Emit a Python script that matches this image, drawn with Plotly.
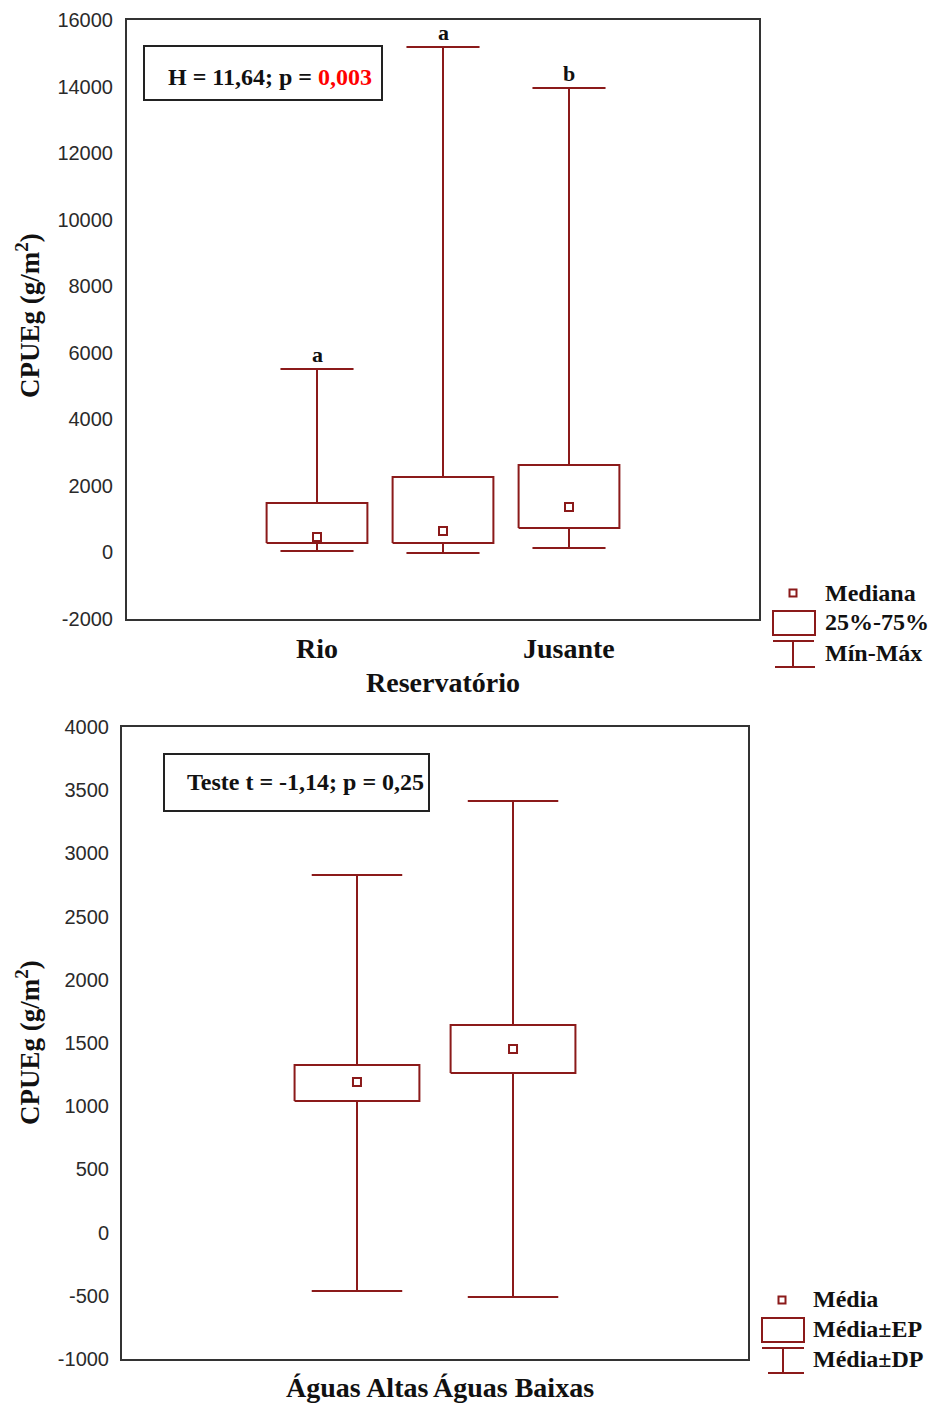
import plotly.graph_objects as go

W, H = 928, 1403
RED = "#8b1a1a"
FRAME = "#333333"
SERIF = "Liberation Serif, Times New Roman, serif"
SANS = "Liberation Sans, Arial, sans-serif"

# ---------------- data: top panel (median / quartiles / min-max) ----------------
top_categories = ["Rio", "Reservatório", "Jusante"]
top_median = [463, 643, 1364]
top_q1 = [283, 283, 733]
top_q3 = [1484, 2266, 2626]
top_min = [42, -18, 132]
top_max = [5511, 15187, 13955]
top_letters = ["a", "a", "b"]
top_yticks = [-2000, 0, 2000, 4000, 6000, 8000, 10000, 12000, 14000, 16000]

# ---------------- data: bottom panel (mean / ±SE / ±SD) ----------------
bot_categories = ["Águas Altas", "Águas Baixas"]
bot_mean = [1191, 1452]
bot_se_lo = [1041, 1262]
bot_se_hi = [1326, 1642]
bot_sd_lo = [-463, -510]
bot_sd_hi = [2829, 3415]
bot_yticks = [-1000, -500, 0, 500, 1000, 1500, 2000, 2500, 3000, 3500, 4000]

BOX_HALF = 0.40
CAP_HALF = 0.29


def px(x):
    return x / W


def py(y):
    return 1 - y / H


def box_traces(n, mid, lo, hi, wlo, whi, xa, ya):
    xs, ys = [], []
    for i in range(n):
        xs += [i - BOX_HALF, i + BOX_HALF, i + BOX_HALF, i - BOX_HALF, i - BOX_HALF, None]
        ys += [lo[i], lo[i], hi[i], hi[i], lo[i], None]
        xs += [i, i, None, i, i, None]
        ys += [hi[i], whi[i], None, lo[i], wlo[i], None]
        xs += [i - CAP_HALF, i + CAP_HALF, None, i - CAP_HALF, i + CAP_HALF, None]
        ys += [whi[i], whi[i], None, wlo[i], wlo[i], None]
    lines = go.Scatter(x=xs, y=ys, mode="lines", line=dict(color=RED, width=2),
                       xaxis=xa, yaxis=ya, hoverinfo="skip", showlegend=False)
    pts = go.Scatter(x=list(range(n)), y=mid, mode="markers",
                     marker=dict(symbol="square-open", size=8, color=RED,
                                 line=dict(width=2, color=RED)),
                     xaxis=xa, yaxis=ya, showlegend=False)
    return [lines, pts]


fig = go.Figure()
for t in box_traces(len(top_categories), top_median, top_q1, top_q3, top_min, top_max, "x", "y"):
    fig.add_trace(t)
for t in box_traces(len(bot_categories), bot_mean, bot_se_lo, bot_se_hi, bot_sd_lo, bot_sd_hi, "x2", "y2"):
    fig.add_trace(t)

axis_common = dict(showline=True, mirror=True, linecolor=FRAME, linewidth=2,
                   showgrid=False, zeroline=False, automargin=False)
tickfont = dict(family=SANS, size=20, color="#2a2a2a")

fig.update_layout(
    width=W, height=H,
    margin=dict(l=0, r=0, t=0, b=0, autoexpand=False),
    paper_bgcolor="white", plot_bgcolor="white",
    showlegend=False,
    xaxis=dict(domain=[px(127), px(759)], range=[-1.508, 3.508], showticklabels=False,
               ticks="", anchor="y", **axis_common),
    yaxis=dict(domain=[py(619), py(20)], range=[-2000, 16000], tickvals=top_yticks,
               ticktext=[str(v) for v in top_yticks],
               ticks="", ticklabelstandoff=8, anchor="x", tickfont=tickfont, **axis_common),
    xaxis2=dict(domain=[px(122), px(748)], range=[-1.506, 2.506], showticklabels=False,
                ticks="", anchor="y2", **axis_common),
    yaxis2=dict(domain=[py(1359), py(727)], range=[-1000, 4000], tickvals=bot_yticks,
                ticktext=[str(v) for v in bot_yticks],
                ticks="", ticklabelstandoff=7, anchor="x2", tickfont=tickfont, **axis_common),
)

ann = []
shapes = []

# category labels (top, staggered)
top_label_y = [648, 682, 648]
for i, c in enumerate(top_categories):
    ann.append(dict(x=i, xref="x", y=py(top_label_y[i]), yref="paper", text="<b>%s</b>" % c,
                    showarrow=False, xanchor="center", yanchor="middle",
                    font=dict(family=SERIF, size=28, color="#111")))
for i, c in enumerate(bot_categories):
    ann.append(dict(x=i, xref="x2", y=py(1387), yref="paper", text="<b>%s</b>" % c,
                    showarrow=False, xanchor="center", yanchor="middle",
                    font=dict(family=SERIF, size=28, color="#111")))

# significance letters
for i, l in enumerate(top_letters):
    ann.append(dict(x=i, xref="x", y=top_max[i], yref="y", text="<b>%s</b>" % l,
                    showarrow=False, xanchor="center", yanchor="bottom", yshift=0,
                    font=dict(family=SERIF, size=22, color="#111")))

# y-axis titles
for yc in (316, 1043):
    ann.append(dict(x=px(28), xref="paper", y=py(yc), yref="paper",
                    text="<b>CPUEg (g/m<sup>2</sup>)</b>", textangle=-90,
                    showarrow=False, xanchor="center", yanchor="middle",
                    font=dict(family=SERIF, size=27, color="#111")))

# stat boxes
shapes.append(dict(type="rect", xref="paper", yref="paper", x0=px(144), x1=px(382),
                   y0=py(100), y1=py(46), line=dict(color="#222", width=2)))
ann.append(dict(x=px(270), xref="paper", y=py(77), yref="paper",
                text="<b>H = 11,64; p = <span style='color:#ff0000'>0,003</span></b>",
                showarrow=False, xanchor="center", yanchor="middle",
                font=dict(family=SERIF, size=24, color="#111")))
shapes.append(dict(type="rect", xref="paper", yref="paper", x0=px(164), x1=px(429),
                   y0=py(811), y1=py(754), line=dict(color="#222", width=2)))
ann.append(dict(x=px(305), xref="paper", y=py(782), yref="paper",
                text="<b>Teste t = -1,14; p = 0,25</b>",
                showarrow=False, xanchor="center", yanchor="middle",
                font=dict(family=SERIF, size=24, color="#111")))


def legend(sq, box, wtop, wstem, wbot, texts, tx, tys):
    out = []
    out.append(dict(type="rect", xref="paper", yref="paper",
                    x0=px(sq[0] - 3.5), x1=px(sq[0] + 3.5), y0=py(sq[1] + 3.5), y1=py(sq[1] - 3.5),
                    line=dict(color=RED, width=2)))
    out.append(dict(type="rect", xref="paper", yref="paper",
                    x0=px(box[0]), x1=px(box[1]), y0=py(box[3]), y1=py(box[2]),
                    line=dict(color=RED, width=2)))
    for (x0, y0, x1, y1) in (wtop, wstem, wbot):
        out.append(dict(type="line", xref="paper", yref="paper",
                        x0=px(x0), x1=px(x1), y0=py(y0), y1=py(y1),
                        line=dict(color=RED, width=2)))
    a = []
    for t, ty in zip(texts, tys):
        a.append(dict(x=px(tx), xref="paper", y=py(ty), yref="paper", text="<b>%s</b>" % t,
                      showarrow=False, xanchor="left", yanchor="middle",
                      font=dict(family=SERIF, size=24, color="#111")))
    return out, a


s, a = legend((793, 593), (773, 815, 611, 635), (773, 641, 814, 641), (793, 641, 793, 667),
              (775, 667, 815, 667), ["Mediana", "25%-75%", "Mín-Máx"], 823, [593, 622, 653])
shapes += s
ann += a
s, a = legend((782, 1300), (762, 804, 1318, 1342), (762, 1348, 804, 1348), (783, 1348, 783, 1373),
              (768, 1373, 804, 1373), ["Média", "Média±EP", "Média±DP"], 811, [1299, 1329, 1359])
shapes += s
ann += a

fig.update_layout(annotations=ann, shapes=shapes)
fig.write_html("out.html")
